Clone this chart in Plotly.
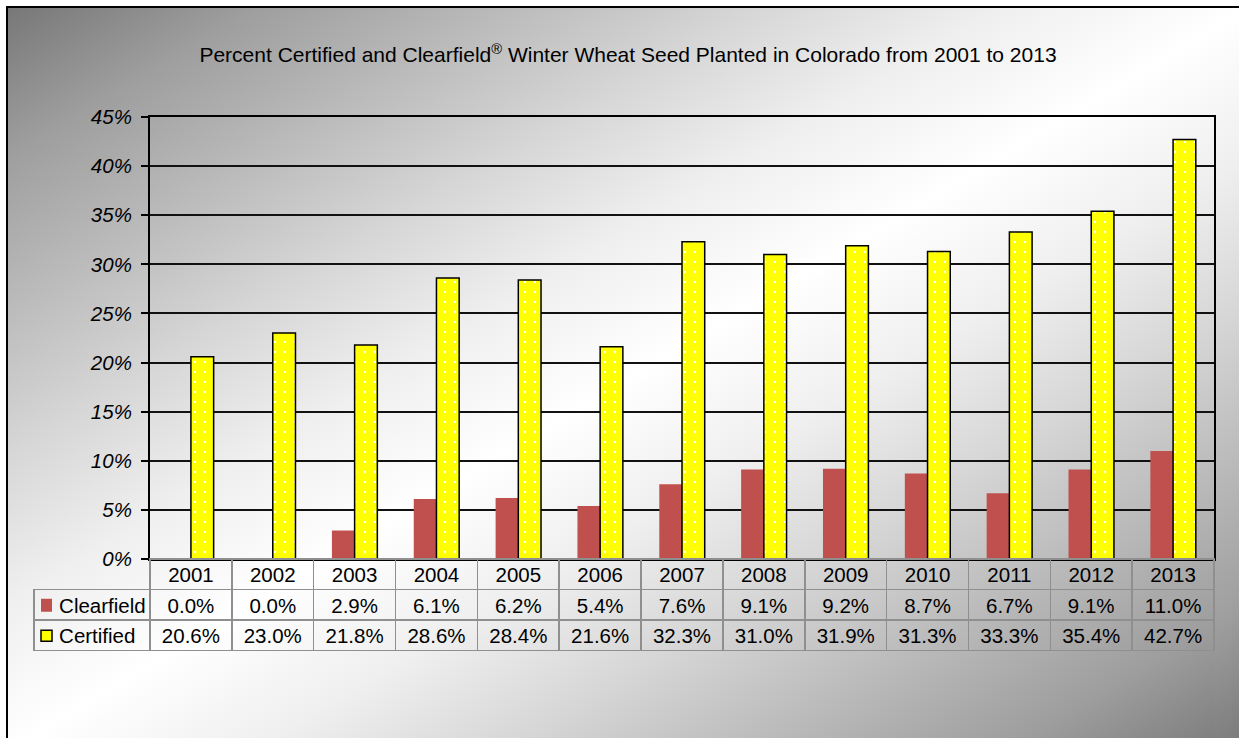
import base64
import plotly.graph_objects as go

W, H = 1239, 738

years = ["2001", "2002", "2003", "2004", "2005", "2006", "2007",
         "2008", "2009", "2010", "2011", "2012", "2013"]
clearfield = [0.0, 0.0, 2.9, 6.1, 6.2, 5.4, 7.6, 9.1, 9.2, 8.7, 6.7, 9.1, 11.0]
certified = [20.6, 23.0, 21.8, 28.6, 28.4, 21.6, 32.3, 31.0, 31.9, 31.3, 33.3, 35.4, 42.7]
series_names = ["Clearfield", "Certified"]
title_text = "Percent Certified and Clearfield<sup>®</sup> Winter Wheat Seed Planted in Colorado from 2001 to 2013"

RED = "#c0504d"
YELLOW = "#ffff00"
FONT = "Liberation Sans, Arial, sans-serif"

def px(x):
    return x / W

def py(y):
    return 1 - y / H

plot_l, plot_r, plot_t, plot_b = 150, 1214, 117, 559
leg_l = 34
row_h = 30.5

fig = go.Figure()

fig.add_trace(go.Bar(
    x=years, y=clearfield, name=series_names[0],
    marker=dict(color=RED, line=dict(width=0)),
    xaxis="x", yaxis="y", showlegend=False,
))
fig.add_trace(go.Bar(
    x=years, y=certified, name=series_names[1],
    marker=dict(color=YELLOW, line=dict(color="black", width=1.5),
                pattern=dict(shape=".", fgcolor="white", bgcolor=YELLOW,
                             size=10, solidity=0.04, fillmode="replace")),
    xaxis="x", yaxis="y", showlegend=False,
))

# data table under the chart
ncols = len(years)
col_w = (plot_r - plot_l) / ncols
border = "#8f8f8f"
NB = "\u00a0"
header_vals = [NB] + years
cell_vals = [[NB * 3 + series_names[0], NB * 3 + series_names[1]]] + \
    [[f"{c:.1f}%", f"{d:.1f}%"] for c, d in zip(clearfield, certified)]
fig.add_trace(go.Table(
    domain=dict(x=[px(leg_l), px(plot_r)], y=[0.0, py(plot_b)]),
    columnwidth=[plot_l - leg_l] + [col_w] * ncols,
    header=dict(values=header_vals, height=row_h,
                fill=dict(color="rgba(0,0,0,0)"),
                line=dict(color=["rgba(0,0,0,0)"] + [border] * ncols, width=1.5),
                align="center",
                font=dict(family=FONT, size=20.5, color="black")),
    cells=dict(values=cell_vals, height=row_h,
               fill=dict(color="rgba(0,0,0,0)"),
               line=dict(color=border, width=1.5),
               align=["left"] + ["center"] * ncols,
               font=dict(family=FONT, size=20.5, color="black")),
))

# background gradient (diagonal, light centre)
svg = ('<svg xmlns="http://www.w3.org/2000/svg" width="200" height="200" '
       'viewBox="0 0 200 200" preserveAspectRatio="none">'
       '<defs><linearGradient id="g" x1="0" y1="0" x2="1" y2="1">'
       '<stop offset="0" stop-color="#777777"/>'
       '<stop offset="0.1" stop-color="#9e9e9e"/>'
       '<stop offset="0.2" stop-color="#bababa"/>'
       '<stop offset="0.3" stop-color="#d6d6d6"/>'
       '<stop offset="0.4" stop-color="#efefef"/>'
       '<stop offset="0.5" stop-color="#ffffff"/>'
       '<stop offset="0.6" stop-color="#efefef"/>'
       '<stop offset="0.7" stop-color="#d6d6d6"/>'
       '<stop offset="0.8" stop-color="#bababa"/>'
       '<stop offset="0.9" stop-color="#9e9e9e"/>'
       '<stop offset="1" stop-color="#777777"/>'
       '</linearGradient></defs>'
       '<rect width="200" height="200" fill="url(#g)"/></svg>')
src = "data:image/svg+xml;base64," + base64.b64encode(svg.encode()).decode()

fig.update_layout(
    width=W, height=H, autosize=False,
    margin=dict(l=0, r=0, t=0, b=0, pad=0),
    paper_bgcolor="white", plot_bgcolor="rgba(0,0,0,0)",
    font=dict(family=FONT, color="black"),
    showlegend=False,
    barmode="group", bargap=0.445, bargroupgap=0.0,
    title=dict(text=title_text, x=px(628), y=py(55), xanchor="center", yanchor="middle",
               xref="paper", yref="paper", automargin=False,
               font=dict(family=FONT, size=21, color="black")),
    xaxis=dict(domain=[px(plot_l), px(plot_r)], showticklabels=False, ticks="",
               showline=True, linecolor="black", linewidth=2, mirror=True,
               showgrid=False, zeroline=False, fixedrange=True, automargin=False),
    yaxis=dict(domain=[py(plot_b), py(plot_t)], range=[0, 45], dtick=5,
               ticksuffix="%", ticks="outside", ticklen=7, tickcolor="black", tickwidth=1.5,
               tickfont=dict(family=FONT, size=20.5, color="black", style="italic"),
               showline=True, linecolor="black", linewidth=2, mirror=True,
               showgrid=True, gridcolor="#111111", gridwidth=1.8, zeroline=False,
               ticklabelstandoff=5, fixedrange=True, automargin=False),
    images=[dict(source=src, xref="paper", yref="paper", x=px(7), y=py(7),
                 sizex=px(1250 - 7), sizey=(750 - 7) / H, xanchor="left", yanchor="top",
                 sizing="stretch", layer="below")],
    shapes=[
        dict(type="rect", xref="paper", yref="paper", x0=px(7), y0=py(760), x1=px(1260), y1=py(7),
             line=dict(color="black", width=2), fillcolor="rgba(0,0,0,0)", layer="above"),
        dict(type="rect", xref="paper", yref="paper", x0=px(41), x1=px(52),
             y0=py(plot_b + row_h * 1.5 + 7), y1=py(plot_b + row_h * 1.5 - 6),
             fillcolor=RED, line=dict(width=0), layer="above"),
        dict(type="rect", xref="paper", yref="paper", x0=px(41), x1=px(52),
             y0=py(plot_b + row_h * 2.5 + 6), y1=py(plot_b + row_h * 2.5 - 5),
             fillcolor=YELLOW, line=dict(color="black", width=1.5), layer="above"),
    ],
)

fig.write_html("out.html", config=dict(displayModeBar=False))
